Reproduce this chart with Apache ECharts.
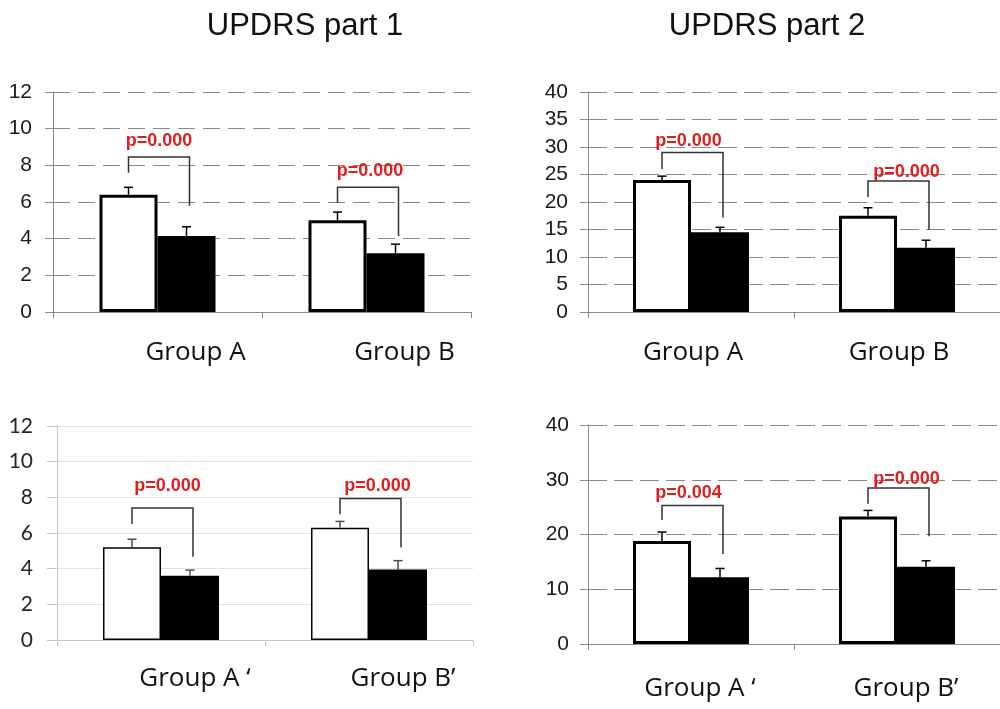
<!DOCTYPE html>
<html>
<head>
<meta charset="utf-8">
<script src="https://cdn.jsdelivr.net/npm/echarts@6/dist/echarts.min.js"></script>
<style>
  html, body { margin: 0; padding: 0; background: #ffffff; }
  #chart { width: 1000px; height: 709px; }
</style>
</head>
<body>
<div id="chart"></div>
<script>
// UPDRS scores: white bars = before, black bars = after (mean with upper error bar)
const titles = ['UPDRS part 1', 'UPDRS part 2'];
const topGroups = ['Group A', 'Group B'];
const bottomGroups = ['Group A \u2018', 'Group B\u2019'];

const part1TopBefore = [6.4, 5.0];
const part1TopBeforeErr = [0.4, 0.45];
const part1TopAfter = [4.15, 3.2];
const part1TopAfterErr = [0.5, 0.5];

const part2TopBefore = [24.0, 17.5];
const part2TopBeforeErr = [0.7, 1.45];
const part2TopAfter = [14.5, 11.7];
const part2TopAfterErr = [0.9, 1.35];

const part1BottomBefore = [5.2, 6.3];
const part1BottomBeforeErr = [0.45, 0.35];
const part1BottomAfter = [3.6, 3.95];
const part1BottomAfterErr = [0.32, 0.5];

const part2BottomBefore = [18.8, 23.3];
const part2BottomBeforeErr = [1.65, 1.1];
const part2BottomAfter = [12.2, 14.1];
const part2BottomAfterErr = [1.6, 1.1];

// p-values of each before/after comparison
const part1TopP = ['p=0.000', 'p=0.000'];
const part2TopP = ['p=0.000', 'p=0.000'];
const part1BottomP = ['p=0.000', 'p=0.000'];
const part2BottomP = ['p=0.004', 'p=0.000'];

// bracket levels in axis units: [bridge, left leg end, right leg end, label]
const part1TopBrackets = [[8.45, 7.6, 5.8, 9.35], [6.8, 5.95, 4.15, 7.67]];
const part2TopBrackets = [[29.0, 26.0, 17.2, 31.1], [23.8, 20.9, 14.9, 25.5]];
const part1BottomBrackets = [[7.4, 6.5, 4.67, 8.62], [7.93, 7.05, 5.19, 8.62]];
const part2BottomBrackets = [[25.3, 22.65, 16.45, 27.5], [28.5, 25.6, 19.66, 30.1]];

const panels = [
  {
    grid: { left: 53, top: 92, width: 418, height: 220 },
    cats: topGroups, max: 12, interval: 2,
    before: part1TopBefore, beforeErr: part1TopBeforeErr,
    after: part1TopAfter, afterErr: part1TopAfterErr,
    pvals: part1TopP, brackets: part1TopBrackets,
    look: 'dashed', dash: [17, 8], labelShift: 38, labelMargin: 26, yMargin: 21, nudge: [0, 2]
  },
  {
    grid: { left: 588, top: 92, width: 420, height: 220 },
    cats: topGroups, max: 40, interval: 5,
    before: part2TopBefore, beforeErr: part2TopBeforeErr,
    after: part2TopAfter, afterErr: part2TopAfterErr,
    pvals: part2TopP, brackets: part2TopBrackets,
    look: 'dashed', dash: [19, 7], labelShift: 2, labelMargin: 26, yMargin: 20, nudge: [-4, 8]
  },
  {
    grid: { left: 57, top: 426, width: 416, height: 214 },
    cats: bottomGroups, max: 12, interval: 2,
    before: part1BottomBefore, beforeErr: part1BottomBeforeErr,
    after: part1BottomAfter, afterErr: part1BottomAfterErr,
    pvals: part1BottomP, brackets: part1BottomBrackets,
    look: 'light', labelShift: 34, labelMargin: 24, yMargin: 24, nudge: [5, 7]
  },
  {
    grid: { left: 588, top: 425, width: 420, height: 219 },
    cats: bottomGroups, max: 40, interval: 10,
    before: part2BottomBefore, beforeErr: part2BottomBeforeErr,
    after: part2BottomAfter, afterErr: part2BottomAfterErr,
    pvals: part2BottomP, brackets: part2BottomBrackets,
    look: 'dashed', dash: [19, 7], labelShift: 9, labelMargin: 30, yMargin: 19, nudge: [-4, 8]
  }
];

const BAR_W = 58;

function errorSeries(idx, values, errs, side, color) {
  return {
    type: 'custom',
    xAxisIndex: idx, yAxisIndex: idx,
    z: 6, silent: true,
    encode: { x: 0, y: 1 },
    data: values.map((v, i) => [i, v, errs[i]]),
    renderItem(params, api) {
      const base = api.coord([api.value(0), api.value(1)]);
      const top = api.coord([api.value(0), api.value(1) + api.value(2)]);
      const x = base[0] + side * BAR_W / 2;
      const st = { stroke: color, lineWidth: 1.5 };
      return {
        type: 'group',
        children: [
          { type: 'line', shape: { x1: x, y1: base[1], x2: x, y2: top[1] }, style: st },
          { type: 'line', shape: { x1: x - 4.5, y1: top[1], x2: x + 4.5, y2: top[1] }, style: st }
        ]
      };
    }
  };
}

function bracketSeries(idx, panel) {
  return {
    type: 'custom',
    xAxisIndex: idx, yAxisIndex: idx,
    z: 7, silent: true,
    encode: { x: 0, y: 1 },
    data: panel.brackets.map((b, i) => [i, b[0]]),
    renderItem(params, api) {
      const i = params.dataIndex;
      const b = panel.brackets[i];
      const c = api.coord([i, b[0]]);
      const xl = c[0] - BAR_W / 2;
      const xr = c[0] + BAR_W / 2 + 3;
      const yTop = c[1];
      const yL = api.coord([i, b[1]])[1];
      const yR = api.coord([i, b[2]])[1];
      const yT = api.coord([i, b[3]])[1];
      return {
        type: 'group',
        children: [
          {
            type: 'polyline',
            shape: { points: [[xl, yL], [xl, yTop], [xr, yTop], [xr, yR]] },
            style: { stroke: '#333333', lineWidth: 1.5, fill: null }
          },
          {
            type: 'text',
            x: (xl + xr) / 2 + panel.nudge[i],
            y: yT,
            style: {
              text: panel.pvals[i],
              font: 'bold 18px "Liberation Sans", Arial, sans-serif',
              fill: '#e01e1e',
              align: 'center', verticalAlign: 'middle',
              textAlign: 'center', textVerticalAlign: 'middle'
            }
          }
        ]
      };
    }
  };
}

const grids = [], xAxes = [], yAxes = [], series = [];

panels.forEach((p, idx) => {
  const light = p.look === 'light';
  const axisColor = light ? '#c4c4c4' : '#8c8c8c';
  grids.push(Object.assign({ containLabel: false }, p.grid));

  xAxes.push({
    type: 'category', gridIndex: idx, data: p.cats, boundaryGap: true,
    axisLine: { show: true, lineStyle: { color: axisColor, width: 1 } },
    axisTick: { show: true, length: 6, lineStyle: { color: axisColor } },
    axisLabel: {
      interval: 0, margin: p.labelMargin,
      padding: [0, 0, 0, 2 * p.labelShift],
      fontFamily: '"Open Sans", sans-serif', fontSize: 26, lineHeight: 30,
      color: '#111111'
    },
    splitLine: { show: false }
  });

  yAxes.push({
    type: 'value', gridIndex: idx, min: 0, max: p.max, interval: p.interval,
    axisLine: { show: true, lineStyle: { color: axisColor, width: 1 } },
    axisTick: { show: true, length: light ? 10 : 8, lineStyle: { color: axisColor } },
    axisLabel: {
      margin: p.yMargin,
      fontFamily: light ? 'Lato, sans-serif' : '"Liberation Sans", Arial, sans-serif',
      fontSize: 21,
      color: light ? '#262626' : '#1a1a1a'
    },
    splitLine: {
      show: true,
      lineStyle: light
        ? { color: '#e2e2e2', width: 1, type: 'solid' }
        : { color: '#8a8a8a', width: 1, type: p.dash }
    }
  });

  const bw = light ? 1.5 : 3;
  series.push({
    type: 'bar', xAxisIndex: idx, yAxisIndex: idx,
    data: p.before, barWidth: BAR_W, barGap: '0%', z: 3, silent: true,
    itemStyle: { color: '#ffffff', borderColor: '#000000', borderWidth: bw }
  });
  series.push({
    type: 'bar', xAxisIndex: idx, yAxisIndex: idx,
    data: p.after, barWidth: BAR_W, barGap: '0%', z: 3, silent: true,
    itemStyle: { color: '#000000', borderColor: '#000000', borderWidth: bw }
  });
  const errColor = light ? '#4d4d4d' : '#000000';
  series.push(errorSeries(idx, p.before, p.beforeErr, -1, errColor));
  series.push(errorSeries(idx, p.after, p.afterErr, 1, errColor));
  series.push(bracketSeries(idx, p));
});

const chart = echarts.init(document.getElementById('chart'), null, { renderer: 'canvas' });
chart.setOption({
  animation: false,
  backgroundColor: '#ffffff',
  title: [
    { text: titles[0], left: 300, top: 6, textAlign: 'center',
      textStyle: { fontFamily: '"Liberation Sans", Arial, sans-serif', fontSize: 31, fontWeight: 'normal', color: '#111111' } },
    { text: titles[1], left: 762, top: 6, textAlign: 'center',
      textStyle: { fontFamily: '"Liberation Sans", Arial, sans-serif', fontSize: 31, fontWeight: 'normal', color: '#111111' } }
  ],
  grid: grids,
  xAxis: xAxes,
  yAxis: yAxes,
  series: series
});
</script>
</body>
</html>
